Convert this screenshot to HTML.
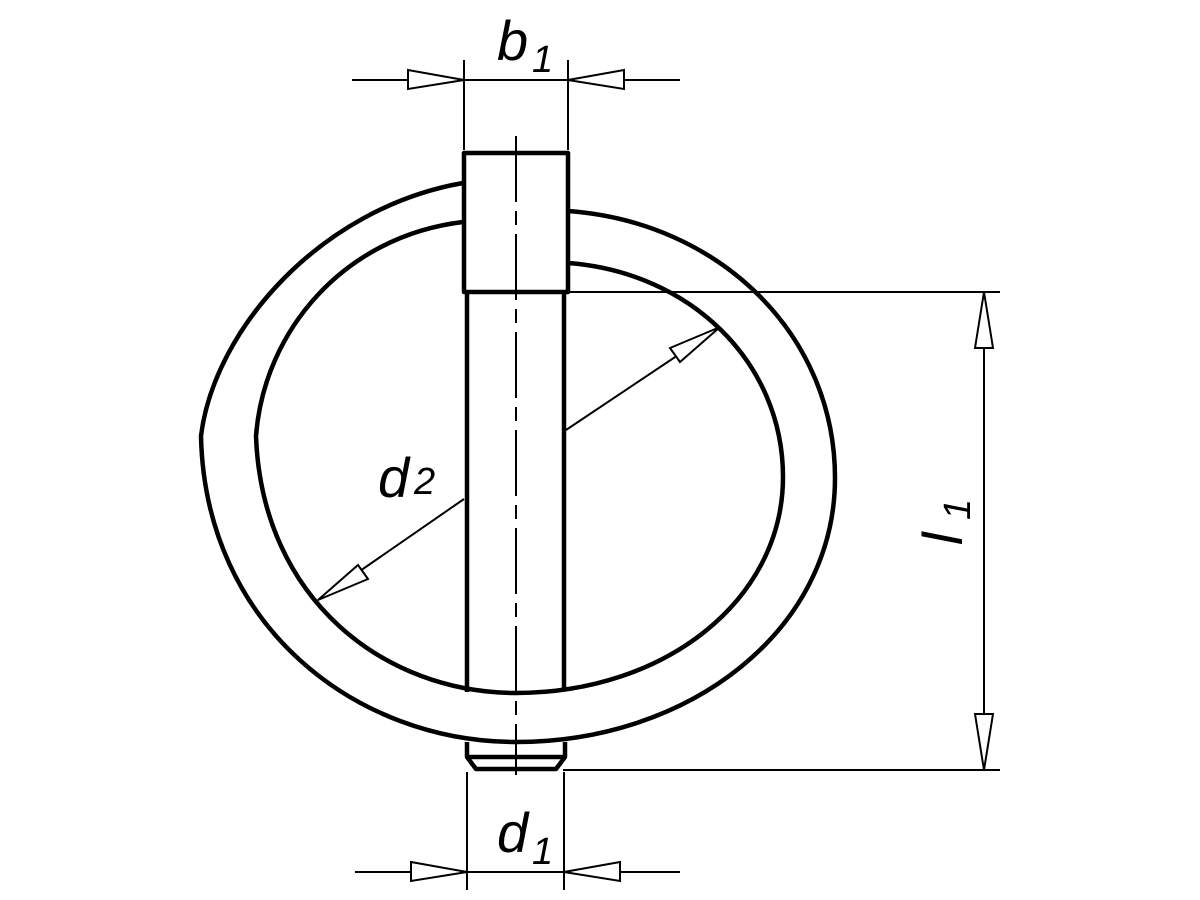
<!DOCTYPE html>
<html><head><style>body{margin:0;background:#fff}svg{display:block}</style></head><body>
<svg width="1200" height="900" viewBox="0 0 1200 900" xmlns="http://www.w3.org/2000/svg">
<g fill="none" stroke="#000" stroke-width="4.5" stroke-linejoin="round">
<!-- outer ring -->
<path d="M568,211 C720,222 835,335 835,478 C835,630 690,742 516,742 C355,742 205,625 201,436 C214,330 320,208 463,183"/>
<!-- inner ring -->
<path d="M568,263 C690,272 783,362 783,477 C783,600 665,693 516,693 C385,693 262,600 256,436 C264,330 345,236 463,222"/>
<!-- pin head -->
<rect x="464" y="153" width="104" height="139" fill="#fff"/>
<line x1="467" y1="292" x2="467" y2="692"/>
<line x1="564" y1="292" x2="564" y2="690"/>
<!-- tip -->
<path d="M467,742 L467,757 L476,769 L556,769 L565,757 L565,742"/>
<line x1="467" y1="757" x2="565" y2="757"/>
</g>
<g fill="none" stroke="#000" stroke-width="2">
<line x1="516" y1="136" x2="516" y2="775" stroke-dasharray="66 9 14 9"/>
<!-- b1 -->
<line x1="352" y1="80" x2="680" y2="80"/>
<line x1="464" y1="60" x2="464" y2="150"/>
<line x1="568" y1="60" x2="568" y2="150"/>
<path d="M408,70 L464,80 L408,89 Z" fill="#fff"/>
<path d="M624,70 L568,80 L624,89 Z" fill="#fff"/>
<!-- d1 -->
<line x1="355" y1="872" x2="680" y2="872"/>
<line x1="467" y1="772" x2="467" y2="890"/>
<line x1="564" y1="772" x2="564" y2="890"/>
<path d="M411,862 L467,872 L411,881 Z" fill="#fff"/>
<path d="M620,862 L564,872 L620,881 Z" fill="#fff"/>
<!-- l1 -->
<line x1="568" y1="292" x2="1000" y2="292"/>
<line x1="563" y1="770" x2="1000" y2="770"/>
<line x1="984" y1="292" x2="984" y2="770"/>
<path d="M975,348 L984,292 L993,348 Z" fill="#fff"/>
<path d="M975,714 L984,770 L993,714 Z" fill="#fff"/>
<!-- d2 -->
<line x1="318" y1="600" x2="464" y2="499"/>
<line x1="566" y1="430" x2="720" y2="327"/>
<path d="M318,600 L358,565 L368,579 Z" fill="#fff"/>
<path d="M720,327 L680,362 L670,348 Z" fill="#fff"/>
</g>
<g font-family="Liberation Sans, sans-serif" font-style="italic" fill="#000">
<text x="497" y="60" font-size="56">b</text>
<text x="532" y="72" font-size="38">1</text>
<text x="378" y="497" font-size="56">d</text>
<text x="414" y="494" font-size="38">2</text>
<text x="497" y="852" font-size="56">d</text>
<text x="532" y="864" font-size="38">1</text>
<text transform="translate(962,545) rotate(-90)" font-size="56">l</text>
<text transform="translate(970,520) rotate(-90)" font-size="38">1</text>
</g>
</svg>
</body></html>
